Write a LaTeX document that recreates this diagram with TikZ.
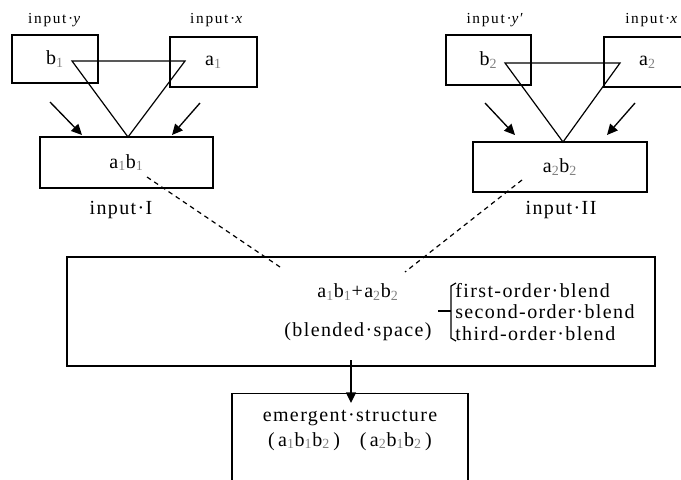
\documentclass[tikz,border=0pt]{standalone}
\usepackage{fontspec}
\setmainfont{Liberation Serif}
\newfontfamily\mf[LetterSpace=7]{Liberation Serif}
\newfontfamily\lf[LetterSpace=11]{Liberation Serif}
\usetikzlibrary{arrows.meta}
\newcommand\sbx[1]{\textsubscript{\textcolor{gray}{#1}}}
\begin{document}
\begin{tikzpicture}[x=0.75pt,y=-0.75pt,
  box/.style={draw, line width=0.9pt, inner sep=0pt, font=\mf\fontsize{15}{17}\selectfont},
  txt/.style={inner sep=0pt, font=\mf\fontsize{15}{17}\selectfont},
  lab/.style={inner sep=0pt, font=\lf\fontsize{11.5}{13}\selectfont},
  ln/.style={line width=0.9pt},
  arr/.style={line width=1pt, -{Triangle[length=8pt,width=7.5pt]}},
  dsh/.style={line width=0.9pt, dash pattern=on 3.5pt off 3pt}]
\clip (0,0) rectangle (681,479);
% left group
\node[box, minimum width=64.5pt, minimum height=36pt] (b1box) at (55,59) {b\sbx{1}};
\node[box, minimum width=65.25pt, minimum height=37.5pt] (a1box) at (213.5,62) {a\sbx{1}};
\node[box, minimum width=129.75pt, minimum height=38.25pt] (ab1) at (126.5,162.5) {a\sbx{1}b\sbx{1}};
\node[lab] (ly1) at (55,20) {input·\textit{y}};
\node[lab] (lx1) at (217,20) {input·\textit{x}};
\node[txt] (in1) at (121,210) {input·I};
\coordinate (t1a) at (72,61);
\coordinate (t1b) at (185,61);
\coordinate (apex1) at (128,137);
\draw[ln] (t1a) -- (t1b) -- (apex1) -- cycle;
\coordinate (la1s) at (50,102); \coordinate (la1e) at (82,135);
\coordinate (ra1s) at (200,103); \coordinate (ra1e) at (172,135);
\draw[arr] (la1s) -- (la1e);
\draw[arr] (ra1s) -- (ra1e);
% right group
\node[box, minimum width=63.75pt, minimum height=37.5pt] (b2box) at (488.5,60) {b\sbx{2}};
\node[box, minimum width=65.25pt, minimum height=37.5pt] (a2box) at (647.5,62) {a\sbx{2}};
\node[box, minimum width=130.5pt, minimum height=37.5pt] (ab2) at (560,167) {a\sbx{2}b\sbx{2}};
\node[lab] (ly2) at (495,20) {input·\textit{y}′};
\node[lab, anchor=west] (lx2) at (625,20) {input·\textit{x}};
\node[txt] (in2) at (561,210) {input·II};
\coordinate (t2a) at (505,63);
\coordinate (t2b) at (620,63);
\coordinate (apex2) at (563,142);
\draw[ln] (t2a) -- (t2b) -- (apex2) -- cycle;
\coordinate (la2s) at (485,103); \coordinate (la2e) at (515,135);
\coordinate (ra2s) at (635,103); \coordinate (ra2e) at (607,135);
\draw[arr] (la2s) -- (la2e);
\draw[arr] (ra2s) -- (ra2e);
% blended space
\node[box, minimum width=441pt, minimum height=81.75pt] (blend) at (361,311.5) {};
\node[txt] (sum) at (358,292) {a\sbx{1}b\sbx{1}+a\sbx{2}b\sbx{2}};
\node[txt] (bsp) at (358,332) {(blended·space)};
\node[txt, anchor=west, align=left, font=\mf\fontsize{15}{16}\selectfont] (orders) at (455,312)
  {first-order·blend\\second-order·blend\\third-order·blend};
\coordinate (brT) at (456,283);
\coordinate (brB) at (456,341);
\coordinate (brM) at (451,311);
\coordinate (brL) at (438,311);
\draw[ln] (brT) -- (451,286) -- (451,338) -- (brB);
\draw[ln] (brL) -- (brM);
% dashed connectors
\coordinate (d1s) at (147,177); \coordinate (d1e) at (280,267);
\coordinate (d2s) at (522,180); \coordinate (d2e) at (405,272);
\draw[dsh] (d1s) -- (d1e);
\draw[dsh] (d2s) -- (d2e);
% emergent structure
\node[box, minimum width=177pt, minimum height=75pt, anchor=north] (emer) at (350,393) {};
\node[txt, align=center, font=\mf\fontsize{15}{18.75}\selectfont] (emtxt) at (350,430)
  {emergent·structure\\(\,a\sbx{1}b\sbx{1}b\sbx{2}\,)\quad(\,a\sbx{2}b\sbx{1}b\sbx{2}\,)};
\coordinate (dns) at (351,360); \coordinate (dne) at (351,403);
\draw[arr] (dns) -- (dne);
\end{tikzpicture}
\end{document}
